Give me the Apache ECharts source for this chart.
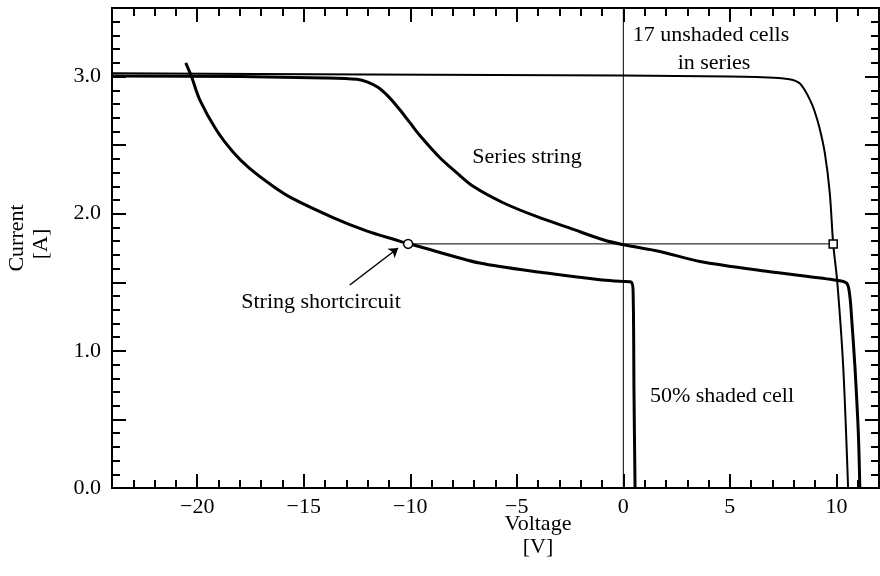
<!DOCTYPE html>
<html>
<head>
<meta charset="utf-8">
<script src="https://cdn.jsdelivr.net/npm/echarts@6/dist/echarts.min.js"></script>
<style>
    html, body { margin: 0; padding: 0; background: #fff; }
    #chart { width: 880px; height: 576px; }
</style>
</head>
<body>
<div id="chart"></div>
<script>
// 17 unshaded cells in series
var unshadedV = [-24, -12, 0, 5, 7.3, 7.8, 8.1, 8.3, 8.5, 8.76, 8.95, 9.2, 9.46, 9.69, 9.85, 10.04, 10.32, 10.55];
var unshadedI = [3.025, 3.015, 3.007, 3.0, 2.99, 2.98, 2.967, 2.948, 2.905, 2.83, 2.76, 2.63, 2.44, 2.15, 1.78, 1.506, 0.885, 0];

// series string
var stringV = [-24, -18, -14, -12.5, -12.0, -11.5, -11.0, -10.5, -10.0, -9.55, -8.62, -7.83, -7.05, -5.64, -4.08, -2.51, -0.95, 0, 1.71, 3.59, 6.72, 9.85, 10.48, 10.63, 10.71, 10.87, 11.03, 11.1];
var stringI = [3.005, 3.0, 2.99, 2.98, 2.96, 2.92, 2.85, 2.76, 2.66, 2.57, 2.41, 2.30, 2.20, 2.08, 1.98, 1.895, 1.81, 1.774, 1.725, 1.652, 1.58, 1.518, 1.494, 1.40, 1.25, 0.885, 0.40, 0];

// 50% shaded cell
var shadedV = [-20.54, -20.27, -19.88, -19.1, -18.32, -17.54, -16.44, -15.58, -13.6, -12.06, -10.5, -10.1, -9.87, -6.74, -3.6, -1.1, 0, 0.38, 0.46, 0.5, 0.55];
var shadedI = [3.10, 3.0, 2.83, 2.61, 2.45, 2.33, 2.20, 2.115, 1.97, 1.875, 1.80, 1.78, 1.774, 1.64, 1.567, 1.518, 1.506, 1.50, 1.42, 0.7, 0];

// reference lines and operating points
var zeroLineV = [0, 0];
var zeroLineI = [0, 3.5];
var opPointV = [-10.1, 9.85];
var opPointI = [1.78, 1.78];
var arrowV = [-12.84, -10.57];
var arrowI = [1.48, 1.75];

// ticks
var xMajor = [-20, -15, -10, -5, 0, 5, 10];
var yMajor = [0, 0.5, 1, 1.5, 2, 2.5, 3, 3.5];
var yLabels = [0, 1, 2, 3];

var xMinor = [];
for (var k = -24; k <= 12; k++) xMinor.push(k);
var yMinor = [];
for (var j = 0; j <= 35; j++) yMinor.push(j / 10);

function zip(a, b) {
    return a.map(function (v, i) { return [v, b[i]]; });
}

var FONT = '"Liberation Serif", "DejaVu Serif", serif';
var BLACK = '#000';

function xAxisDef(pos, ticks, len, labels) {
    return {
        type: 'value', position: pos, min: -24, max: 12,
        axisLine: { show: true, onZero: false, lineStyle: { color: BLACK, width: 2 } },
        axisTick: { show: true, inside: true, length: len, customValues: ticks, lineStyle: { color: BLACK, width: 2 } },
        axisLabel: labels ? {
            show: true, customValues: labels, margin: 8, fontSize: 22, fontFamily: FONT, color: BLACK,
            formatter: function (v) { return String(v).replace('-', '\u2212'); }
        } : { show: false },
        splitLine: { show: false }
    };
}
function yAxisDef(pos, ticks, len, labels) {
    return {
        type: 'value', position: pos, min: 0, max: 3.5,
        axisLine: { show: true, onZero: false, lineStyle: { color: BLACK, width: 2 } },
        axisTick: { show: true, inside: true, length: len, customValues: ticks, lineStyle: { color: BLACK, width: 2 } },
        axisLabel: labels ? {
            show: true, customValues: labels, margin: 11, fontSize: 22, fontFamily: FONT, color: BLACK,
            formatter: function (v) { return v.toFixed(1); }
        } : { show: false },
        splitLine: { show: false }
    };
}

function txt(x, y, s, rot) {
    return {
        type: 'text', x: x, y: y, rotation: rot || 0,
        style: { text: s, fill: BLACK, font: '22px ' + FONT, textAlign: 'center', textVerticalAlign: 'middle' }
    };
}

var chart = echarts.init(document.getElementById('chart'));
chart.setOption({
    animation: false,
    backgroundColor: '#fff',
    grid: { left: 112, right: 1, top: 8, bottom: 88 },
    xAxis: [
        xAxisDef('bottom', xMajor, 14, xMajor),
        xAxisDef('bottom', xMinor, 8, null),
        xAxisDef('top', xMajor, 14, null),
        xAxisDef('top', xMinor, 8, null)
    ],
    yAxis: [
        yAxisDef('left', yMajor, 14, yLabels),
        yAxisDef('left', yMinor, 8, null),
        yAxisDef('right', yMajor, 14, null),
        yAxisDef('right', yMinor, 8, null)
    ],
    series: [
        {
            name: 'zero', type: 'line', data: zip(zeroLineV, zeroLineI), showSymbol: false,
            lineStyle: { color: BLACK, width: 1 }, z: 2
        },
        {
            name: '17 unshaded cells in series', type: 'line', data: zip(unshadedV, unshadedI), showSymbol: false,
            smooth: 0.3,
            lineStyle: { color: BLACK, width: 2 }, z: 3
        },
        {
            name: 'Series string', type: 'line', data: zip(stringV, stringI), showSymbol: false,
            smooth: 0.3,
            lineStyle: { color: BLACK, width: 3 }, z: 3
        },
        {
            name: '50% shaded cell', type: 'line', data: zip(shadedV, shadedI), showSymbol: false,
            smooth: 0.3,
            lineStyle: { color: BLACK, width: 3 }, z: 3
        },
        {
            name: 'operating', type: 'line',
            data: [
                { value: [opPointV[0], opPointI[0]], symbol: 'circle', symbolSize: 9 },
                { value: [opPointV[1], opPointI[1]], symbol: 'rect', symbolSize: 8 }
            ],
            showSymbol: true, showAllSymbol: true,
            lineStyle: { color: BLACK, width: 1 },
            itemStyle: { color: '#fff', borderColor: BLACK, borderWidth: 1.5 },
            z: 5
        },
        {
            name: 'arrow', type: 'lines', coordinateSystem: 'cartesian2d',
            data: [{ coords: zip(arrowV, arrowI) }],
            symbol: ['none', 'arrow'], symbolSize: 9,
            lineStyle: { color: BLACK, width: 1.5, opacity: 1 },
            z: 5
        }
    ],
    graphic: [
        txt(711, 35, '17 unshaded cells'),
        txt(714, 63, 'in series'),
        txt(527, 157, 'Series string'),
        txt(321, 302, 'String shortcircuit'),
        txt(722, 396, '50% shaded cell'),
        txt(538, 524, 'Voltage'),
        txt(538, 547, '[V]'),
        txt(17, 238, 'Current', Math.PI / 2),
        txt(41, 244, '[A]', Math.PI / 2)
    ]
});
</script>
</body>
</html>
